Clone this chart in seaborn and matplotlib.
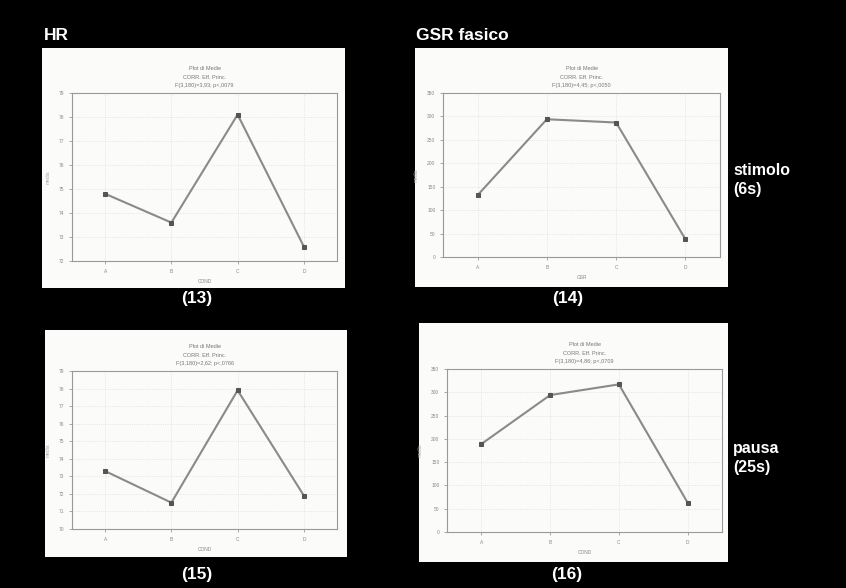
import pandas as pd
import matplotlib.pyplot as plt
import seaborn as sns
from matplotlib.patches import Rectangle

# Dati (valori stimati)
condizioni = ['A', 'B', 'C', 'D']

hr_stimolo = [74.8, 73.6, 78.1, 72.6]
gsr_stimolo = [132, 294, 287, 38]
hr_pausa = [73.3, 71.5, 77.9, 71.9]
gsr_pausa = [189, 294, 317, 63]

hr_stimolo_ticks = [72, 73, 74, 75, 76, 77, 78, 79]
gsr_ticks = [0, 50, 100, 150, 200, 250, 300, 350]
hr_pausa_ticks = [70, 71, 72, 73, 74, 75, 76, 77, 78, 79]

titoli = [
    'Plot di Medie\nCORR. Eff. Princ.\nF(3,180)=3,93; p<,0079',
    'Plot di Medie\nCORR. Eff. Princ.\nF(3,180)=4,45; p<,0050',
    'Plot di Medie\nCORR. Eff. Princ.\nF(3,180)=2,62; p<,0766',
    'Plot di Medie\nCORR. Eff. Princ.\nF(3,180)=4,86; p<,0709',
]

W, H = 846, 588
plt.rcParams['font.family'] = ['Liberation Sans', 'DejaVu Sans']

fig = plt.figure(figsize=(W / 100, H / 100), dpi=100, facecolor='black')


def px_rect(x0, y0, x1, y1):
    # converte pixel (origine in alto a sinistra) in coordinate figura
    return [x0 / W, 1 - y1 / H, (x1 - x0) / W, (y1 - y0) / H]


# riquadri bianchi dei grafici (sotto agli assi)
for box in [(42, 48, 345, 288), (415, 48, 728, 287), (45, 330, 347, 557), (419, 323, 728, 562)]:
    l, b, w, h = px_rect(*box)
    fig.add_artist(Rectangle((l, b), w, h, transform=fig.transFigure,
                             facecolor='#fbfbf9', edgecolor='none', zorder=-10))

pannelli = [
    (px_rect(72, 93, 337, 261), hr_stimolo, hr_stimolo_ticks, titoli[0], 'COND'),
    (px_rect(443, 93, 720, 257), gsr_stimolo, gsr_ticks, titoli[1], 'GSR'),
    (px_rect(72, 371, 337, 529), hr_pausa, hr_pausa_ticks, titoli[2], 'COND'),
    (px_rect(447, 369, 722, 532), gsr_pausa, gsr_ticks, titoli[3], 'COND'),
]

for pos, valori, ticks, titolo, xlab in pannelli:
    ax = fig.add_axes(pos)
    ax.set_zorder(1)
    ax.set_facecolor('#fbfbf9')
    df = pd.DataFrame({'cond': condizioni, 'media': valori})
    sns.lineplot(data=df, x='cond', y='media', ax=ax, color='#8a8a8a', linewidth=1.5,
                 marker='s', markersize=2.5, markerfacecolor='#555555', markeredgecolor='#555555')
    ax.set_xlim(-0.5, 3.5)
    ax.set_ylim(ticks[0], ticks[-1])
    ax.set_yticks(ticks)
    ax.tick_params(labelsize=3.5, colors='#888888', length=2, width=0.5)
    ax.grid(True, color='#dddddd', linestyle=':', linewidth=0.6)
    for sp in ax.spines.values():
        sp.set_color('#999999')
        sp.set_linewidth(0.8)
    ax.set_title(titolo, fontsize=4, color='#777777', linespacing=1.9, pad=4)
    ax.set_xlabel(xlab, fontsize=3.5, color='#888888', labelpad=4)
    ax.set_ylabel('media', fontsize=3.5, color='#aaaaaa', labelpad=6)


# testi della diapositiva
def testo(x, y, s, **kw):
    fig.text(x / W, 1 - y / H, s, color='white', va='center', **kw)


testo(44, 35, 'HR', fontsize=12.5, fontweight='bold')
testo(416, 35, 'GSR fasico', fontsize=12.5, fontweight='bold')
testo(733, 180, 'stimolo\n(6s)', fontsize=11.5, fontweight='bold', linespacing=1.3)
testo(733, 458, 'pausa\n(25s)', fontsize=11.5, fontweight='bold', linespacing=1.3)
testo(197, 299, '(13)', fontsize=12.5, fontweight='bold', ha='center')
testo(568, 299, '(14)', fontsize=12.5, fontweight='bold', ha='center')
testo(197, 575, '(15)', fontsize=12.5, fontweight='bold', ha='center')
testo(567, 575, '(16)', fontsize=12.5, fontweight='bold', ha='center')

fig.savefig('out.png', dpi=100, facecolor='black')
